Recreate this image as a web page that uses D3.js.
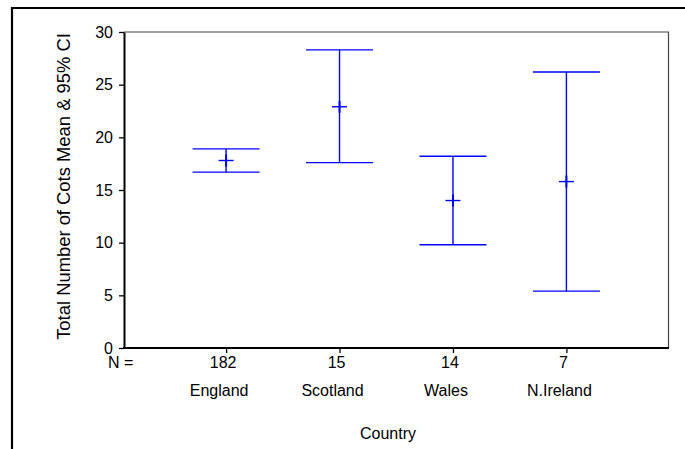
<!DOCTYPE html>
<html>
<head>
<meta charset="utf-8">
<script src="https://cdn.jsdelivr.net/npm/d3@7"></script>
<style>
  html, body { margin: 0; padding: 0; background: #fff; }
  svg { display: block; }
  text { font-family: Arial, "Liberation Sans", Helvetica, sans-serif; fill: #000; }
</style>
</head>
<body>
<svg id="chart" width="685" height="449"></svg>
<script>
// Mean number of cots per country with 95% confidence interval
const countries = ["England", "Scotland", "Wales", "N.Ireland"];
const sampleSizes = [182, 15, 14, 7];
const means = [17.8, 22.9, 14.0, 15.8];
const ciLower = [16.7, 17.6, 9.8, 5.4];
const ciUpper = [18.9, 28.3, 18.2, 26.2];
const yTicks = [0, 5, 10, 15, 20, 25, 30];

const svg = d3.select("#chart");
const plot = { left: 124, right: 668.5, top: 32, bottom: 348 };
const blue = "#0000ff";

// outer frame (top and left edges)
svg.append("path")
  .attr("d", `M12,449 L12,8 L685,8`)
  .attr("fill", "none").attr("stroke", "#000").attr("stroke-width", 2.2);

const x = d3.scalePoint()
  .domain(countries)
  .range([plot.left, plot.right])
  .padding(0.9);

const y = d3.scaleLinear()
  .domain([0, 30])
  .range([plot.bottom, plot.top]);

// plot box: top and right edges in grey
svg.append("path")
  .attr("d", `M${plot.left},${plot.top} L${plot.right},${plot.top} L${plot.right},${plot.bottom}`)
  .attr("fill", "none").attr("stroke", "#444").attr("stroke-width", 1.2);

// y axis
const yAxis = svg.append("g")
  .attr("transform", `translate(${plot.left},0)`)
  .call(d3.axisLeft(y).tickValues(yTicks).tickSize(5).tickPadding(6).tickSizeOuter(0));
yAxis.select(".domain").attr("stroke-width", 2);
yAxis.selectAll(".tick line").attr("stroke-width", 1.3);
yAxis.selectAll(".tick text").attr("font-size", 16).attr("font-family", null);

// x axis with country ticks
const xAxis = svg.append("g")
  .attr("transform", `translate(0,${plot.bottom})`)
  .call(d3.axisBottom(x).tickSize(5).tickSizeOuter(0).tickFormat(""));
xAxis.select(".domain").attr("stroke-width", 2)
  .attr("d", `M${plot.left - 1},0H${plot.right + 0.5}`);
xAxis.selectAll(".tick line").attr("stroke-width", 1.3);

// sample sizes row
svg.append("text")
  .attr("x", 108).attr("y", 368)
  .attr("font-size", 16)
  .text("N =");
svg.selectAll("text.n")
  .data(countries)
  .join("text")
  .attr("class", "n")
  .attr("x", d => x(d) - 3)
  .attr("y", 368)
  .attr("text-anchor", "middle")
  .attr("font-size", 16)
  .text((d, i) => sampleSizes[i]);

// country names
svg.selectAll("text.country")
  .data(countries)
  .join("text")
  .attr("class", "country")
  .attr("x", d => x(d) - 7)
  .attr("y", 396)
  .attr("text-anchor", "middle")
  .attr("font-size", 16)
  .text(d => d);

// axis titles
svg.append("text")
  .attr("x", 388).attr("y", 439)
  .attr("text-anchor", "middle")
  .attr("font-size", 16)
  .text("Country");

svg.append("text")
  .attr("transform", `translate(69.5,186.5) rotate(-90)`)
  .attr("text-anchor", "middle")
  .attr("font-size", 18.4)
  .text("Total Number of Cots Mean & 95% CI");

// error bars
const capHalf = 33.5;
const markHalfW = 7.5;
const markHalfH = 6;
const bars = svg.append("g").attr("stroke", blue).attr("fill", "none");

countries.forEach((c, i) => {
  const cx = x(c);
  const g = bars.append("g");
  g.append("line")
    .attr("x1", cx).attr("x2", cx)
    .attr("y1", y(ciLower[i])).attr("y2", y(ciUpper[i]))
    .attr("stroke-width", 1.4);
  [ciLower[i], ciUpper[i]].forEach(v => {
    g.append("line")
      .attr("x1", cx - capHalf).attr("x2", cx + capHalf)
      .attr("y1", y(v)).attr("y2", y(v))
      .attr("stroke-width", 1.4);
  });
  // mean marker (+)
  g.append("line")
    .attr("x1", cx - markHalfW).attr("x2", cx + markHalfW)
    .attr("y1", y(means[i])).attr("y2", y(means[i]))
    .attr("stroke-width", 1.4);
  g.append("line")
    .attr("x1", cx).attr("x2", cx)
    .attr("y1", y(means[i]) - markHalfH).attr("y2", y(means[i]) + markHalfH)
    .attr("stroke-width", 2);
});
</script>
</body>
</html>
